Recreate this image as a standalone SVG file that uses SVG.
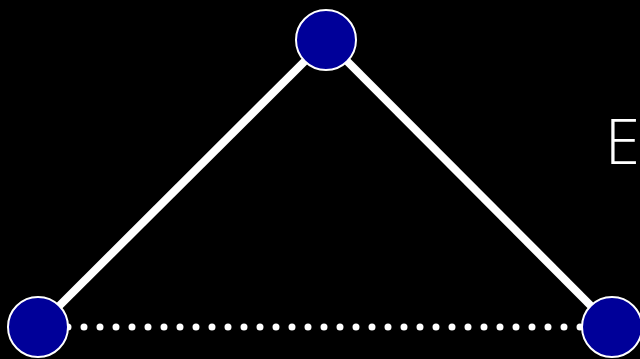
<svg xmlns="http://www.w3.org/2000/svg" width="640" height="359" viewBox="0 0 640 359">
<style>
.node{fill:#000099;stroke:#ffffff;stroke-width:2}
.edge{stroke:#ffffff;stroke-width:8;fill:none}
.dot{stroke:#ffffff;stroke-width:7;stroke-linecap:round;stroke-dasharray:0 16;fill:none}
.lbl{fill:#ffffff;font-family:"Open Sans","Noto Sans",sans-serif;font-weight:300;font-size:63px}
</style>
<rect width="640" height="359" fill="#000000"/>
<g id="connectors">
<line class="edge" x1="326" y1="40" x2="38" y2="327"/>
<line class="edge" x1="326" y1="40" x2="612" y2="327"/>
<line class="dot" x1="68" y1="327" x2="582" y2="327"/>
</g>
<g id="node-top"><circle class="node" cx="326" cy="40" r="30"/></g>
<g id="node-left"><circle class="node" cx="38" cy="327" r="30"/></g>
<g id="node-right"><circle class="node" cx="612" cy="327" r="30"/></g>
<g id="label-E"><text class="lbl" x="605" y="164">E</text></g>
</svg>
